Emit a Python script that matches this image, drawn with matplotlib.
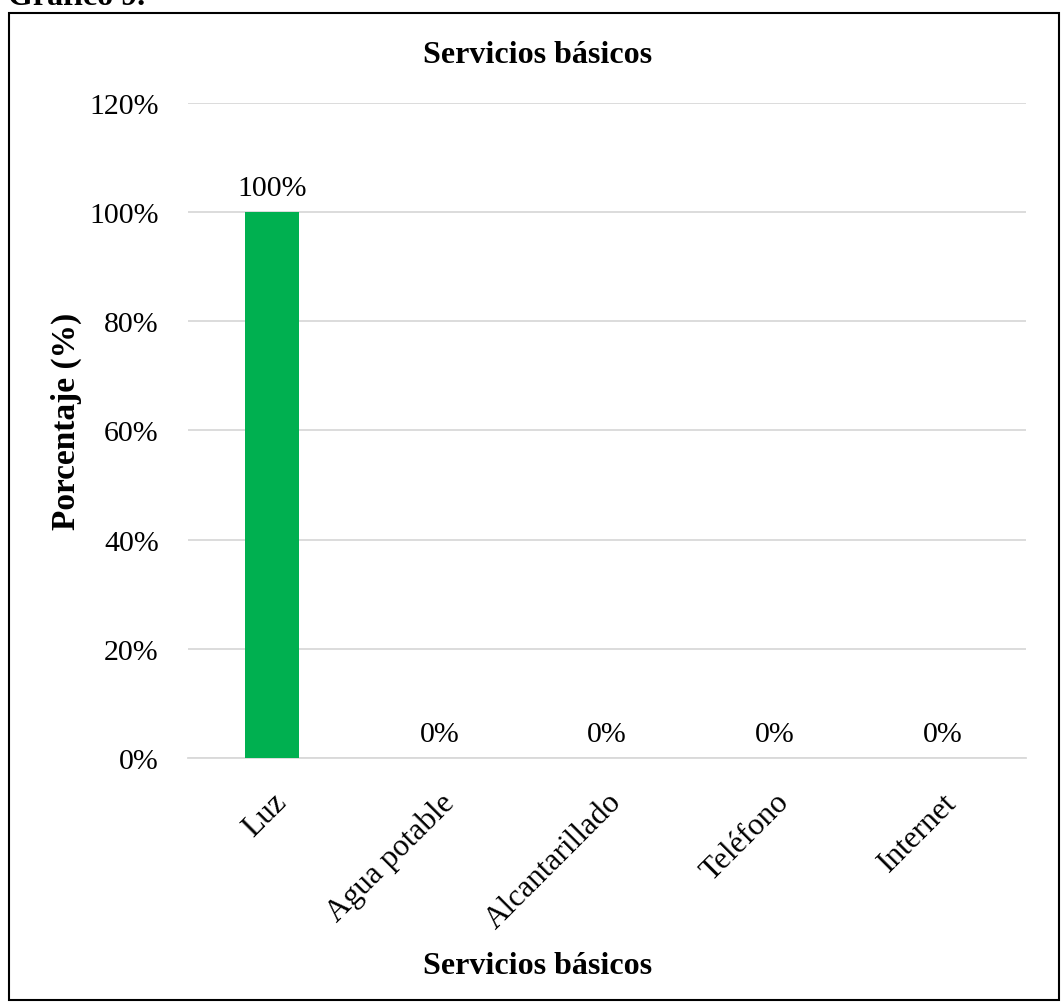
import matplotlib.pyplot as plt
from matplotlib.patches import Rectangle
from matplotlib.ticker import PercentFormatter

plt.rcParams['font.family'] = ['Liberation Serif', 'DejaVu Serif']

servicios = ['Luz', 'Agua potable', 'Alcantarillado', 'Teléfono', 'Internet']
porcentajes = [1.00, 0.00, 0.00, 0.00, 0.00]
etiquetas = ['100%', '0%', '0%', '0%', '0%']

fig = plt.figure(figsize=(10.61, 10.03), dpi=100)
ax = fig.add_axes([0.1772, 0.2433, 0.790, 0.653])

x = range(len(servicios))
barras = ax.bar(x, porcentajes, width=0.32, color='#00B050', zorder=3)
ax.bar_label(barras, labels=etiquetas, padding=8, fontsize=21.5)

ax.set_ylim(0, 1.2)
ax.set_xlim(-0.5, len(servicios) - 0.5)
ax.set_yticks([0, 0.2, 0.4, 0.6, 0.8, 1.0, 1.2])
ax.yaxis.set_major_formatter(PercentFormatter(1.0, decimals=0))
ax.grid(axis='y', color='#D9D9D9', linewidth=1.3, zorder=0)
ax.set_xticks(list(x))
ax.set_xticklabels(servicios, rotation=45, ha='right', rotation_mode='anchor', fontsize=22.5)
ax.tick_params(axis='y', length=0, labelsize=21.5, pad=21)
ax.tick_params(axis='x', length=0, pad=21)
for lado in ['top', 'right', 'left']:
    ax.spines[lado].set_visible(False)
ax.spines['bottom'].set_color('#D9D9D9')
ax.spines['bottom'].set_linewidth(1.3)

fig.text(0.507, 0.945, 'Servicios básicos', ha='center', va='center',
         fontsize=23, fontweight='bold')
fig.text(0.507, 0.036, 'Servicios básicos', ha='center', va='center',
         fontsize=23, fontweight='bold')
fig.text(0.063, 0.58, 'Porcentaje (%)', ha='center', va='center',
         rotation=90, fontsize=24, fontweight='bold')
fig.text(0.008, 1 - 5 / 1003, 'Gráfico 9.', ha='left', va='baseline',
         fontsize=23, fontweight='bold')

marco = Rectangle((0.0085, 0.0015), 0.99, 0.985, transform=fig.transFigure,
                  fill=False, edgecolor='black', linewidth=1.5)
fig.patches.append(marco)

fig.savefig('out.png', dpi=100)
